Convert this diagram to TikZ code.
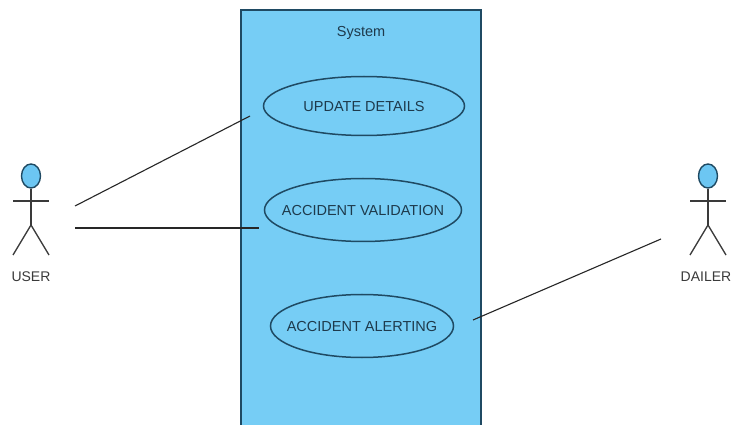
\documentclass[tikz,border=0pt]{standalone}
\usepackage{fontspec}
\setmainfont{Liberation Sans}
\usetikzlibrary{shapes.geometric}
\definecolor{sysfill}{HTML}{76CDF5}
\definecolor{headfill}{HTML}{6CC6F2}
\definecolor{edge}{HTML}{1F4A63}
\definecolor{lbl}{HTML}{1E3A4C}
\definecolor{figure}{HTML}{3A3A3A}
\tikzset{
  usecase/.style={draw=edge,line width=1.5pt,ellipse,inner sep=0pt,fill=sysfill},
  uclabel/.style={text=lbl,font=\fontsize{14.5}{16}\selectfont,inner sep=0pt,yshift=-1pt},
  limb/.style={draw=figure,line width=1.3pt},
  head/.style={draw=edge,line width=1.4pt,fill=headfill,ellipse,minimum width=19pt,minimum height=24pt,inner sep=0pt},
  assoc/.style={draw=black!85,line width=1.1pt},
  actorlabel/.style={text=figure,font=\fontsize{14}{16}\selectfont,inner sep=0pt}
}
\begin{document}
\begin{tikzpicture}[x=1pt,y=-1pt]
\useasboundingbox (0,0) rectangle (732,425);
\fill[white] (0,0) rectangle (732,425);
% system
\path[fill=sysfill] (241,10) rectangle (481,425);
\draw[edge,line width=1.6pt] (241,425) -- (241,10) -- (481,10) -- (481,425);
\node[uclabel] (sys) at (361,32) {System};
% use cases
\node[usecase,minimum width=201pt,minimum height=59pt,label={[uclabel]center:UPDATE DETAILS}] (uc1) at (364,106) {};
\node[usecase,minimum width=197pt,minimum height=63pt,label={[uclabel]center:ACCIDENT VALIDATION}] (uc2) at (363,210) {};
\node[usecase,minimum width=183pt,minimum height=63pt,label={[uclabel]center:ACCIDENT ALERTING}] (uc3) at (362,326) {};
% user actor
\node[head] (uh) at (31,176) {};
\coordinate (uw) at (31,225);
\draw[limb] (uh.south) -- (uw);
\coordinate (ua1) at (13,201);
\coordinate (ua2) at (49,201);
\draw[limb] (ua1) -- (ua2);
\coordinate (ul1) at (13,255);
\coordinate (ul2) at (49,255);
\draw[limb] (ul1) -- (uw) -- (ul2);
\node[actorlabel] (ulab) at (31,277) {USER};
% dailer actor
\node[head] (dh) at (708,176) {};
\coordinate (dw) at (708,225);
\draw[limb] (dh.south) -- (dw);
\coordinate (da1) at (690,201);
\coordinate (da2) at (726,201);
\draw[limb] (da1) -- (da2);
\coordinate (dl1) at (690,255);
\coordinate (dl2) at (726,255);
\draw[limb] (dl1) -- (dw) -- (dl2);
\node[actorlabel] (dlab) at (706,277) {DAILER};
% connectors
\coordinate (a1s) at (75,206);
\coordinate (a1e) at (250,116);
\coordinate (a2s) at (75,228);
\coordinate (a2e) at (259,228);
\coordinate (a3s) at (473,320);
\coordinate (a3e) at (661,239);
\draw[assoc] (a1s) -- (a1e);
\draw[assoc] (a2s) -- (a2e);
\draw[assoc] (a3s) -- (a3e);
\end{tikzpicture}
\end{document}
